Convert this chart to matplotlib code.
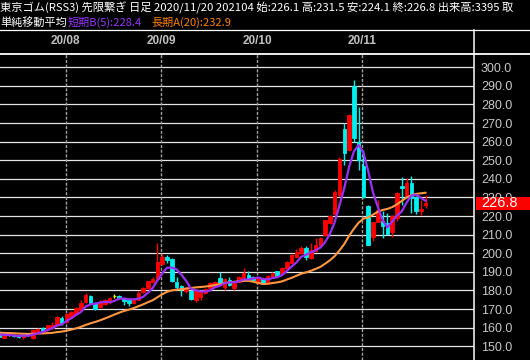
import numpy as np
import pandas as pd
import matplotlib
matplotlib.use("Agg")
import matplotlib.pyplot as plt
import matplotlib.transforms as mtransforms
from matplotlib.lines import Line2D
from matplotlib.patches import Rectangle
from matplotlib.ticker import FormatStrFormatter

# daily candles 2020/07 .. 2020/11/20
OPENS = [157.6, 154.6, 155.8, 156.2, 155.8, 155.0, 156.7, 154.6, 158.0, 159.7,
         158.5, 159.7, 161.2, 165.1, 163.0, 165.7, 167.5, 169.6, 173.7, 176.8,
         173.2, 171.0, 172.8, 174.4, 177.0, 177.2, 175.6, 174.7, 173.3, 175.0,
         179.0, 181.3, 184.6, 186.0, 194.0, 198.0, 196.8, 184.3, 182.5, 179.5,
         179.9, 175.0, 176.5, 178.5, 181.2, 182.6, 186.6, 182.0, 185.5, 181.5,
         184.8, 186.6, 188.1, 187.4, 183.9, 185.9, 184.1, 187.3, 190.3, 189.1,
         192.1, 194.8, 198.0, 200.1, 203.0, 197.5, 201.1, 204.0, 209.6, 216.3,
         221.1, 231.4, 266.6, 255.5, 289.8, 260.0, 247.0, 225.2, 208.6, 217.0,
         217.1, 216.3, 211.3, 218.9, 236.3, 230.5, 237.7, 230.5, 222.5, 226.1]
HIGHS = [158.5, 156.6, 156.4, 156.6, 156.2, 156.3, 157.0, 159.5, 160.0, 160.2,
         161.6, 163.0, 166.5, 166.0, 168.0, 168.8, 171.0, 174.6, 178.7, 177.3,
         173.6, 175.0, 175.5, 176.4, 178.0, 177.6, 176.0, 176.0, 175.8, 179.5,
         181.8, 185.3, 187.5, 205.5, 199.5, 199.0, 197.2, 187.0, 183.0, 181.8,
         180.3, 180.8, 179.4, 181.2, 184.5, 185.2, 190.1, 186.6, 187.0, 184.4,
         187.8, 191.9, 190.5, 187.8, 187.0, 186.3, 188.1, 189.9, 190.7, 192.6,
         195.7, 199.6, 202.3, 204.0, 204.0, 205.5, 208.3, 208.6, 218.1, 220.6,
         234.1, 251.6, 269.8, 274.7, 293.0, 278.4, 255.5, 226.0, 217.0, 228.8,
         222.5, 221.6, 220.6, 232.7, 240.9, 240.4, 241.3, 230.9, 228.4, 231.5]
LOWS = [154.8, 154.2, 155.3, 155.2, 154.6, 154.0, 155.4, 154.0, 157.6, 157.5,
        158.2, 159.4, 160.8, 161.2, 162.6, 165.3, 167.0, 169.2, 173.3, 172.5,
        169.6, 170.6, 172.4, 172.5, 175.7, 175.6, 172.4, 171.8, 172.8, 174.6,
        178.6, 180.9, 184.2, 185.4, 193.6, 194.5, 184.6, 180.7, 177.2, 178.5,
        175.0, 174.0, 174.7, 178.0, 180.8, 182.2, 183.5, 180.0, 182.6, 180.0,
        184.4, 185.8, 185.5, 185.3, 183.5, 183.3, 183.7, 186.9, 187.2, 188.7,
        191.7, 194.4, 197.6, 199.7, 196.6, 197.1, 200.7, 203.6, 209.2, 215.9,
        220.7, 231.0, 247.5, 255.1, 260.0, 244.8, 229.6, 204.2, 206.4, 216.6,
        208.2, 209.6, 209.0, 217.1, 226.1, 230.1, 221.6, 221.2, 220.7, 224.1]
CLOSES = [155.0, 156.2, 155.8, 155.6, 154.9, 156.0, 155.8, 158.9, 159.4, 158.0,
          161.2, 161.2, 165.6, 162.4, 167.5, 168.4, 170.5, 173.2, 177.3, 173.2,
          170.1, 173.7, 175.1, 176.0, 177.0, 176.0, 174.2, 173.3, 175.4, 178.6,
          181.3, 184.9, 186.3, 195.5, 198.0, 196.4, 185.2, 181.6, 181.0, 181.3,
          175.6, 180.4, 179.0, 180.8, 183.9, 184.7, 183.9, 186.2, 183.0, 184.0,
          187.4, 189.2, 185.9, 185.7, 186.6, 183.7, 187.7, 189.5, 188.0, 192.2,
          195.3, 199.2, 200.7, 202.8, 198.0, 201.6, 204.7, 208.0, 217.7, 220.2,
          232.7, 250.5, 254.1, 274.3, 261.8, 250.2, 230.0, 204.6, 216.6, 223.4,
          214.5, 210.5, 220.2, 232.3, 235.0, 238.0, 229.6, 222.5, 223.8, 226.8]
# closes before the visible window (needed for the moving averages)
PRE_CLOSES = [158.5, 158.0, 157.4, 157.8, 158.2, 157.6, 157.0, 156.8, 157.3, 157.9,
              158.3, 157.7, 157.2, 156.9, 157.5, 157.1, 156.4, 156.8, 156.3]

MONTH_LABELS = ["20/08", "20/09", "20/10", "20/11"]
MONTH_START = [14, 34, 54, 76]
Y_TICKS = [150, 160, 170, 180, 190, 200, 210, 220, 230, 240, 250, 260, 270, 280, 290, 300]
LAST_PRICE = 226.8

TITLE = ("東京ゴム(RSS3) 先限繋ぎ 日足 2020/11/20 202104 始:226.1 高:231.5 "
         "安:224.1 終:226.8 出来高:3395 取")
MA_TITLE = "単純移動平均"
MA5_TEXT = "短期B(5):228.4"
MA20_TEXT = "長期A(20):232.9"

UP, DOWN, DOJI = "#ff0000", "#00f0f0", "#ffff00"
PURPLE, ORANGE = "#9a2ff5", "#ff9640"

plt.rcParams["font.family"] = ["Noto Sans CJK JP", "DejaVu Sans"]

W, H = 530, 360
fig = plt.figure(figsize=(W / 100, H / 100), dpi=100, facecolor="black")


def fx(px):
    return px / W


def fy(py):
    return 1 - py / H


ax = fig.add_axes([0, 0, fx(474), 306 / H])
ax.set_facecolor("black")
for s in ax.spines.values():
    s.set_visible(False)

idx = np.arange(len(CLOSES))
o, h, l, c = map(np.array, (OPENS, HIGHS, LOWS, CLOSES))
colors = np.where(c > o, UP, np.where(c < o, DOWN, DOJI))

# grid + month separators
for t in Y_TICKS:
    ax.axhline(t, color="#e4e4e4", lw=0.9, zorder=1)
for m in MONTH_START:
    ax.axvline(m - 0.2, color="#a0a0a0", lw=1.0, dashes=(2.2, 1.2), zorder=1)

# candles
ax.vlines(idx, l, h, colors=colors, lw=1.0, zorder=2)
ax.bar(idx, np.abs(c - o), bottom=np.minimum(o, c), width=0.74,
       color=colors, edgecolor=colors, linewidth=0.6, zorder=3)

# moving averages
closes_all = pd.Series(PRE_CLOSES + CLOSES)
ma5 = closes_all.rolling(5).mean().to_numpy()[len(PRE_CLOSES):]
ma20 = closes_all.rolling(20).mean().to_numpy()[len(PRE_CLOSES):]
ax.plot(idx, ma20, color=ORANGE, lw=1.5, zorder=4, solid_capstyle="round")
ax.plot(idx, ma5, color=PURPLE, lw=1.6, zorder=5, solid_capstyle="round")

ax.set_xlim(0.6 / 4.79, 474.6 / 4.79)
ax.set_ylim(142.6, 307.15)
ax.set_xticks([])
ax.yaxis.tick_right()
ax.set_yticks(Y_TICKS)
ax.yaxis.set_major_formatter(FormatStrFormatter("%.1f"))
ax.tick_params(axis="y", length=0, pad=5, labelcolor="#c8c8c8", labelsize=9)
for lbl in ax.get_yticklabels():
    lbl.set_fontfamily("Liberation Sans")

# month labels above the plot
trans = mtransforms.blended_transform_factory(ax.transData, ax.transAxes)
for m, lab in zip(MONTH_START, MONTH_LABELS):
    ax.text(m - 0.2, 1.0 + 13 / 306, lab, transform=trans, ha="center", va="center",
            color="#c0c0c0", fontsize=8.5, fontweight="bold",
            family="Liberation Sans", clip_on=False)

# last price marker on the axis
ytrans = mtransforms.blended_transform_factory(ax.transAxes, ax.transData)
ax.add_patch(Rectangle((1.004, LAST_PRICE - 3.6), 0.2, 7.2, transform=ytrans,
                       facecolor="#ff0000", edgecolor="none", clip_on=False, zorder=6))
ax.text(1.0 + 7 / 474, LAST_PRICE, f"{LAST_PRICE:.1f}", transform=ytrans,
        ha="left", va="center", color="white", fontsize=10.5,
        family="Liberation Sans", clip_on=False, zorder=7)

# frame lines
fig.add_artist(Line2D([0, 1], [fy(30), fy(30)], color="white", lw=0.9))
fig.add_artist(Line2D([0, 1], [fy(54), fy(54)], color="white", lw=1.3))
fig.add_artist(Line2D([fx(474), fx(474)], [fy(30), 0], color="white", lw=1.1))

# header
fig.text(fx(0), fy(8), TITLE, color="white", fontsize=8.15, va="center", ha="left")
fig.text(fx(0), fy(22), MA_TITLE, color="white", fontsize=8, va="center", ha="left")
fig.text(fx(68), fy(22), MA5_TEXT, color="#9933ff", fontsize=8, va="center", ha="left")
fig.text(fx(151), fy(22), MA20_TEXT, color="#ff8000", fontsize=8, va="center", ha="left")

fig.savefig("out.png", dpi=100, facecolor="black")
